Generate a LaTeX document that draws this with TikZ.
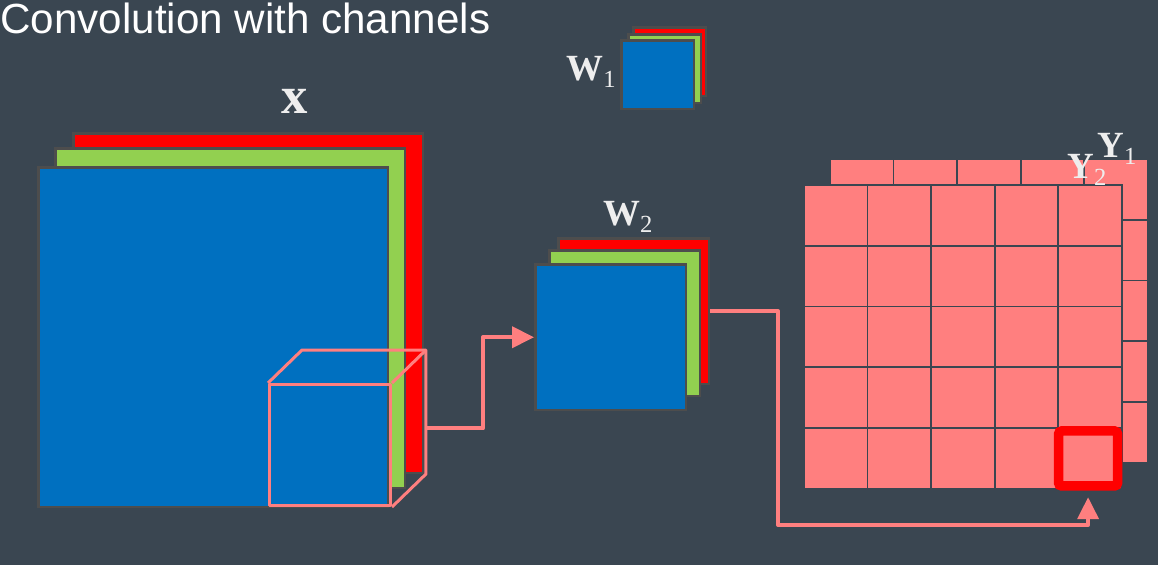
\documentclass[tikz,border=0pt]{standalone}
\usepackage{fontspec}
\setmainfont{Liberation Serif}
\newfontfamily\titlefont{Liberation Sans}
\usetikzlibrary{positioning,arrows.meta}

\definecolor{slate}{RGB}{58,70,81}
\definecolor{chblue}{RGB}{0,112,192}
\definecolor{chgreen}{RGB}{146,208,80}
\definecolor{chred}{RGB}{255,0,0}
\definecolor{salmon}{RGB}{255,127,127}
\definecolor{rim}{RGB}{77,77,77}
\definecolor{lblgray}{RGB}{238,238,238}

\newcommand{\lblsub}[2]{{\bfseries #1}\raisebox{-4pt}{\normalfont\fontsize{14}{14}\selectfont #2}}

\tikzset{
  layer/.style={draw=rim, line width=0.05cm, inner sep=0, anchor=north west},
  cell/.style={fill=salmon, draw=slate, line width=0.035cm, inner sep=0, anchor=north west,
    minimum width=1.272cm, minimum height=1.216cm},
  lbl/.style={text=lblgray, inner sep=0, font=\bfseries\fontsize{21}{21}\selectfont},
  cubeln/.style={draw=salmon, line width=0.06cm, line join=round},
  flow/.style={draw=salmon, line width=0.08cm, line join=round,
    -{Triangle[length=0.44cm,width=0.42cm]}},
}

\begin{document}
\begin{tikzpicture}[x=0.02cm,y=-0.02cm]

\useasboundingbox (0,0) rectangle (1158,565);
\fill[slate] (0,0) rectangle (1158,565);

\node[anchor=base west, inner sep=0, text=white, font=\titlefont\fontsize{24}{24}\selectfont]
  (title) at (0,33) {Convolution with channels};

% input x
\node[layer, fill=chred,   minimum width=7cm, minimum height=6.8cm] (xr) at (72,132) {};
\node[layer, fill=chgreen, minimum width=7cm, minimum height=6.8cm] (xg) at (54,147) {};
\node[layer, fill=chblue,  minimum width=7cm, minimum height=6.8cm] (xb) at (37,166) {};
\node[lbl, anchor=base, font=\bfseries\fontsize{30}{30}\selectfont] (xlbl) at (295,113) {x};

% receptive cube
\node[cubeln, inner sep=0, anchor=north west, minimum size=2.42cm] (cube) at (268,383) {};
\draw[cubeln] (cube.north west) -- ++(34,-33) -| ([shift={(34,-33)}]cube.south east) -- (cube.south east);
\draw[cubeln] (cube.north east) -- ++(34,-33);
\coordinate (cubeR) at ([shift={(34,-16.5)}]cube.east);

% filters
\node[layer, fill=chred,   minimum width=1.46cm, minimum height=1.38cm] (w1r) at (632,26) {};
\node[layer, fill=chgreen, minimum width=1.46cm, minimum height=1.38cm] (w1g) at (627,33) {};
\node[layer, fill=chblue,  minimum width=1.46cm, minimum height=1.38cm] (w1b) at (620,39) {};
\node[lbl, anchor=base west] (w1lbl) at (566,80) {\lblsub{W}{1}};

\node[layer, fill=chred,   minimum width=3.02cm, minimum height=2.92cm] (w2r) at (557,237) {};
\node[layer, fill=chgreen, minimum width=3.02cm, minimum height=2.92cm] (w2g) at (548,249) {};
\node[layer, fill=chblue,  minimum width=3.02cm, minimum height=2.92cm] (w2b) at (534,263) {};
\node[lbl, above=0.08cm of w2r, xshift=-0.12cm] (w2lbl) {\lblsub{W}{2}};

% outputs
\foreach \i in {0,...,4}
  \foreach \j in {0,...,4}
    \node[cell] (y1-\i-\j) at ({829+63.6*\i},{158+60.8*\j}) {};
\foreach \i in {0,...,4}
  \foreach \j in {0,...,4}
    \node[cell] (y2-\i-\j) at ({803+63.6*\i},{184+60.8*\j}) {};

\node[draw=chred, line width=0.19cm, rounded corners=0.06cm, inner sep=0,
  minimum width=1.18cm, minimum height=1.1cm, xshift=-0.04cm] (hl) at (y2-4-4) {};

\node[lbl, anchor=base west] (y1lbl) at (1097,157) {\lblsub{Y}{1}};
\node[lbl, anchor=base west] (y2lbl) at (1067,178) {\lblsub{Y}{2}};

% arrows
\draw[flow] (cubeR) -- ++(57,0) |- (w2b.west);
\draw[flow, shorten >=0.13cm] (w2r.east) -| (778,525) -| (hl.south);

\end{tikzpicture}
\end{document}
